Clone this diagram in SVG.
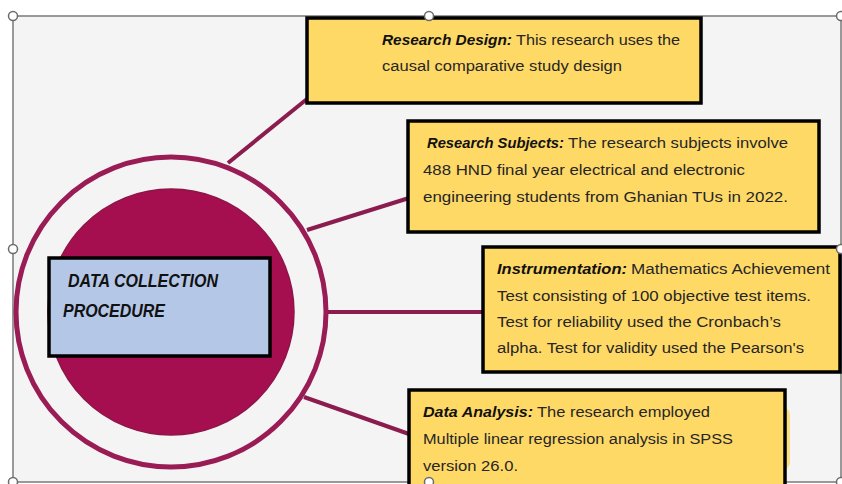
<svg xmlns="http://www.w3.org/2000/svg" width="842" height="484" viewBox="0 0 842 484">
<style>
.box{fill:#ffd966;stroke:#000;stroke-width:3.5}
.t{font-family:"Liberation Sans",Arial,sans-serif;font-size:15.5px;fill:#262626}
.b{font-weight:bold;font-style:italic;fill:#111}
.conn line{stroke:#8b1c4e;stroke-width:4;stroke-linecap:butt}
.h{fill:#fff;stroke:#6b6b6b;stroke-width:1.5}
</style>
<rect x="0" y="0" width="842" height="484" fill="#ffffff"/>
<rect x="13" y="16" width="828" height="466" fill="#f4f4f5" stroke="#7a7a7a" stroke-width="1.5"/>
<g id="connectors" class="conn">
<line x1="228" y1="163" x2="307" y2="99"/>
<line x1="307" y1="230" x2="409" y2="198"/>
<line x1="328" y1="312" x2="484" y2="312"/>
<line x1="304" y1="397" x2="409" y2="434"/>
</g>
<g id="hub">
<circle cx="171" cy="312" r="155" fill="none" stroke="#9a1c55" stroke-width="5"/>
<circle cx="171" cy="312" r="123" fill="#a50f50" stroke="#8e1647" stroke-width="1.5"/>
</g>
<g id="title">
<rect x="49" y="258" width="221" height="98" fill="#b4c7e7" stroke="#000" stroke-width="3.5"/>
<text class="t b" x="68" y="287" style="font-size:17.5px" textLength="150" lengthAdjust="spacingAndGlyphs">DATA COLLECTION</text>
<text class="t b" x="63" y="317" style="font-size:17.5px" textLength="102" lengthAdjust="spacingAndGlyphs">PROCEDURE</text>
</g>
<g id="research-design">
<rect class="box" x="307" y="18" width="394" height="85"/>
<text class="t b" x="382" y="45" textLength="130" lengthAdjust="spacingAndGlyphs">Research Design:</text>
<text class="t" x="516" y="45" textLength="164" lengthAdjust="spacingAndGlyphs">This research uses the</text>
<text class="t" x="382" y="71" textLength="240" lengthAdjust="spacingAndGlyphs">causal comparative study design</text>
</g>
<g id="research-subjects">
<rect class="box" x="408" y="121" width="411" height="111"/>
<text class="t b" x="427" y="148" textLength="137" lengthAdjust="spacingAndGlyphs">Research Subjects:</text>
<text class="t" x="568" y="148" textLength="220" lengthAdjust="spacingAndGlyphs">The research subjects involve</text>
<text class="t" x="423" y="175" textLength="322" lengthAdjust="spacingAndGlyphs">488 HND final year electrical and electronic</text>
<text class="t" x="423" y="202" textLength="365" lengthAdjust="spacingAndGlyphs">engineering students from Ghanian TUs in 2022.</text>
</g>
<g id="instrumentation">
<rect class="box" x="483" y="247" width="357" height="125"/>
<text class="t b" x="497" y="274" textLength="130" lengthAdjust="spacingAndGlyphs">Instrumentation:</text>
<text class="t" x="631" y="274" textLength="199" lengthAdjust="spacingAndGlyphs">Mathematics Achievement</text>
<text class="t" x="497" y="301" textLength="314" lengthAdjust="spacingAndGlyphs">Test consisting of 100 objective test items.</text>
<text class="t" x="497" y="327" textLength="284" lengthAdjust="spacingAndGlyphs">Test for reliability used the Cronbach’s</text>
<text class="t" x="497" y="353" textLength="307" lengthAdjust="spacingAndGlyphs">alpha. Test for validity used the Pearson's</text>
</g>
<g id="data-analysis">
<rect x="760" y="407" width="30" height="63" rx="8" fill="#ffd966" opacity="0.8"/>
<rect class="box" x="409" y="390" width="376" height="100"/>
<text class="t b" x="423" y="417" textLength="110" lengthAdjust="spacingAndGlyphs">Data Analysis:</text>
<text class="t" x="537" y="417" textLength="173" lengthAdjust="spacingAndGlyphs">The research employed</text>
<text class="t" x="423" y="444" textLength="310" lengthAdjust="spacingAndGlyphs">Multiple linear regression analysis in SPSS</text>
<text class="t" x="423" y="471" textLength="95" lengthAdjust="spacingAndGlyphs">version 26.0.</text>
</g>
<g id="handles">
<circle class="h" cx="13" cy="16" r="4.5"/>
<circle class="h" cx="429" cy="16" r="4.5"/>
<circle class="h" cx="841" cy="16" r="4.5"/>
<circle class="h" cx="13" cy="249" r="4.5"/>
<circle class="h" cx="841" cy="249" r="4.5"/>
<circle class="h" cx="13" cy="482" r="4.5"/>
<circle class="h" cx="429" cy="482" r="4.5"/>
<circle class="h" cx="841" cy="482" r="4.5"/>
</g>
</svg>
